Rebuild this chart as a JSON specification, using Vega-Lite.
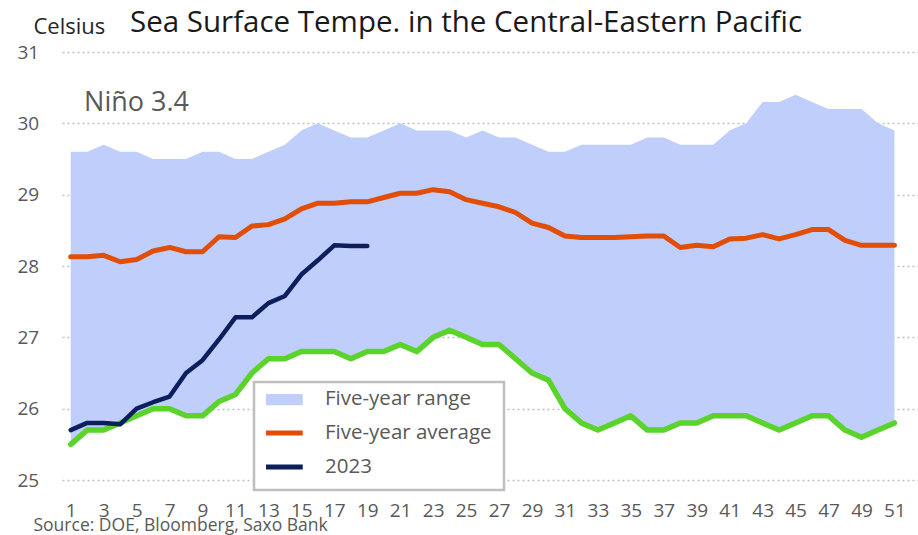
{
  "$schema": "https://vega.github.io/schema/vega-lite/v6.json",
  "width": 856,
  "height": 428,
  "autosize": {"type": "none"},
  "padding": {"left": 62, "top": 52, "right": 0, "bottom": 55},
  "background": "white",
  "title": {
    "text": "Sea Surface Tempe. in the Central-Eastern Pacific",
    "anchor": "start",
    "frame": "group",
    "dx": 68,
    "dy": 46,
    "offset": 0,
    "baseline": "alphabetic",
    "font": "Open Sans",
    "fontSize": 29.5,
    "fontWeight": "normal",
    "color": "#1a1a1a"
  },
  "config": {
    "font": "Open Sans",
    "view": {"stroke": null},
    "axis": {"domain": false, "ticks": false, "labelColor": "#595959", "labelFont": "Open Sans", "labelFontSize": 19},
    "legend": {"strokeWidth": 2.5}
  },
  "data": {
    "values": [
      {"week": 1, "max": 29.6, "min": 25.5, "avg": 28.13, "y2023": 25.7},
      {"week": 2, "max": 29.6, "min": 25.7, "avg": 28.13, "y2023": 25.8},
      {"week": 3, "max": 29.7, "min": 25.7, "avg": 28.15, "y2023": 25.8},
      {"week": 4, "max": 29.6, "min": 25.8, "avg": 28.06, "y2023": 25.78},
      {"week": 5, "max": 29.6, "min": 25.9, "avg": 28.09, "y2023": 26.0},
      {"week": 6, "max": 29.5, "min": 26.0, "avg": 28.21, "y2023": 26.09},
      {"week": 7, "max": 29.5, "min": 26.0, "avg": 28.26, "y2023": 26.17},
      {"week": 8, "max": 29.5, "min": 25.9, "avg": 28.2, "y2023": 26.5},
      {"week": 9, "max": 29.6, "min": 25.9, "avg": 28.2, "y2023": 26.68},
      {"week": 10, "max": 29.6, "min": 26.1, "avg": 28.41, "y2023": 26.97},
      {"week": 11, "max": 29.5, "min": 26.2, "avg": 28.4, "y2023": 27.28},
      {"week": 12, "max": 29.5, "min": 26.5, "avg": 28.56, "y2023": 27.28},
      {"week": 13, "max": 29.6, "min": 26.7, "avg": 28.58, "y2023": 27.48},
      {"week": 14, "max": 29.7, "min": 26.7, "avg": 28.66, "y2023": 27.58},
      {"week": 15, "max": 29.9, "min": 26.8, "avg": 28.8, "y2023": 27.88},
      {"week": 16, "max": 30.0, "min": 26.8, "avg": 28.88, "y2023": 28.08},
      {"week": 17, "max": 29.9, "min": 26.8, "avg": 28.88, "y2023": 28.29},
      {"week": 18, "max": 29.8, "min": 26.7, "avg": 28.9, "y2023": 28.28},
      {"week": 19, "max": 29.8, "min": 26.8, "avg": 28.9, "y2023": 28.28},
      {"week": 20, "max": 29.9, "min": 26.8, "avg": 28.96, "y2023": null},
      {"week": 21, "max": 30.0, "min": 26.9, "avg": 29.02, "y2023": null},
      {"week": 22, "max": 29.9, "min": 26.8, "avg": 29.02, "y2023": null},
      {"week": 23, "max": 29.9, "min": 27.0, "avg": 29.07, "y2023": null},
      {"week": 24, "max": 29.9, "min": 27.1, "avg": 29.04, "y2023": null},
      {"week": 25, "max": 29.8, "min": 27.0, "avg": 28.93, "y2023": null},
      {"week": 26, "max": 29.9, "min": 26.9, "avg": 28.88, "y2023": null},
      {"week": 27, "max": 29.8, "min": 26.9, "avg": 28.83, "y2023": null},
      {"week": 28, "max": 29.8, "min": 26.7, "avg": 28.75, "y2023": null},
      {"week": 29, "max": 29.7, "min": 26.5, "avg": 28.6, "y2023": null},
      {"week": 30, "max": 29.6, "min": 26.4, "avg": 28.54, "y2023": null},
      {"week": 31, "max": 29.6, "min": 26.0, "avg": 28.42, "y2023": null},
      {"week": 32, "max": 29.7, "min": 25.8, "avg": 28.4, "y2023": null},
      {"week": 33, "max": 29.7, "min": 25.7, "avg": 28.4, "y2023": null},
      {"week": 34, "max": 29.7, "min": 25.8, "avg": 28.4, "y2023": null},
      {"week": 35, "max": 29.7, "min": 25.9, "avg": 28.41, "y2023": null},
      {"week": 36, "max": 29.8, "min": 25.7, "avg": 28.42, "y2023": null},
      {"week": 37, "max": 29.8, "min": 25.7, "avg": 28.42, "y2023": null},
      {"week": 38, "max": 29.7, "min": 25.8, "avg": 28.26, "y2023": null},
      {"week": 39, "max": 29.7, "min": 25.8, "avg": 28.29, "y2023": null},
      {"week": 40, "max": 29.7, "min": 25.9, "avg": 28.27, "y2023": null},
      {"week": 41, "max": 29.9, "min": 25.9, "avg": 28.38, "y2023": null},
      {"week": 42, "max": 30.0, "min": 25.9, "avg": 28.39, "y2023": null},
      {"week": 43, "max": 30.3, "min": 25.8, "avg": 28.44, "y2023": null},
      {"week": 44, "max": 30.3, "min": 25.7, "avg": 28.38, "y2023": null},
      {"week": 45, "max": 30.4, "min": 25.8, "avg": 28.44, "y2023": null},
      {"week": 46, "max": 30.3, "min": 25.9, "avg": 28.51, "y2023": null},
      {"week": 47, "max": 30.2, "min": 25.9, "avg": 28.51, "y2023": null},
      {"week": 48, "max": 30.2, "min": 25.7, "avg": 28.36, "y2023": null},
      {"week": 49, "max": 30.2, "min": 25.6, "avg": 28.29, "y2023": null},
      {"week": 50, "max": 30.0, "min": 25.7, "avg": 28.29, "y2023": null},
      {"week": 51, "max": 29.9, "min": 25.8, "avg": 28.29, "y2023": null}
    ]
  },
  "encoding": {
    "x": {
      "field": "week",
      "type": "quantitative",
      "scale": {"domain": [0.47, 52.43], "nice": false, "zero": false},
      "axis": {
        "values": [1, 3, 5, 7, 9, 11, 13, 15, 17, 19, 21, 23, 25, 27, 29, 31, 33, 35, 37, 39, 41, 43, 45, 47, 49, 51],
        "grid": false,
        "labelFlush": false,
        "labelPadding": 21,
        "labelBaseline": "top",
        "title": "Source: DOE, Bloomberg, Saxo Bank",
        "titleX": -29,
        "titleY": 50,
        "titleAlign": "left",
        "titleAnchor": "start",
        "titleBaseline": "alphabetic",
        "titleFontSize": 17.5,
        "titleFontWeight": "normal",
        "titleColor": "#595959",
        "titleFont": "Open Sans"
      }
    }
  },
  "layer": [
    {
      "mark": {"type": "area", "opacity": 1},
      "encoding": {
        "y": {
          "field": "max",
          "type": "quantitative",
          "scale": {"domain": [25, 31], "nice": false, "zero": false},
          "axis": {
            "values": [25, 26, 27, 28, 29, 30, 31],
            "format": "d",
            "grid": true,
            "gridColor": "#bfbfbf",
            "gridDash": [2, 3],
            "gridWidth": 1.5,
            "labelAlign": "left",
            "labelPadding": 45,
            "labelBaseline": "middle",
            "title": "Celsius",
            "titleAngle": 0,
            "titleAlign": "left",
            "titleBaseline": "alphabetic",
            "titleX": -29,
            "titleY": -19,
            "titleFontSize": 22,
            "titleFontWeight": "normal",
            "titleColor": "#262626",
            "titleFont": "Open Sans"
          }
        },
        "y2": {"field": "min"},
        "color": {
          "datum": "Five-year range",
          "type": "nominal",
          "scale": {
            "domain": ["Five-year range", "Five-year average", "2023"],
            "range": ["#bfcefa", "#e04e08", "#0c1f5c"]
          },
          "legend": {
            "title": null,
            "orient": "none",
            "legendX": 192,
            "legendY": 330,
            "symbolType": "stroke",
            "symbolSize": 2809,
            "symbolStrokeWidth": {"expr": "datum.value === 'Five-year range' ? 12.7 : 5"},
            "clipHeight": 10,
            "rowPadding": 13,
            "labelOffset": 38.5,
            "labelLimit": 300,
            "labelFont": "Open Sans",
            "labelFontSize": 20.5,
            "labelColor": "#595959",
            "padding": 12,
            "strokeColor": "#bfbfbf",
            "fillColor": "white"
          }
        }
      }
    },
    {
      "mark": {"type": "line", "color": "#5ad32a", "strokeWidth": 5.5, "strokeJoin": "round", "strokeCap": "round"},
      "encoding": {"y": {"field": "min", "type": "quantitative"}}
    },
    {
      "mark": {"type": "line", "strokeWidth": 5, "strokeJoin": "round", "strokeCap": "round"},
      "encoding": {
        "y": {"field": "avg", "type": "quantitative"},
        "color": {"datum": "Five-year average", "type": "nominal"}
      }
    },
    {
      "mark": {"type": "line", "strokeWidth": 4.5, "strokeJoin": "round", "strokeCap": "round"},
      "encoding": {
        "y": {"field": "y2023", "type": "quantitative"},
        "color": {"datum": "2023", "type": "nominal"}
      }
    },
    {
      "transform": [{"filter": "datum.week === 1"}],
      "mark": {"type": "text", "text": "Niño 3.4", "align": "left", "baseline": "alphabetic", "font": "Open Sans", "fontSize": 27, "color": "#595959"},
      "encoding": {
        "x": {"datum": 1.81, "type": "quantitative"},
        "y": {"datum": 30.17, "type": "quantitative"}
      }
    }
  ]
}
